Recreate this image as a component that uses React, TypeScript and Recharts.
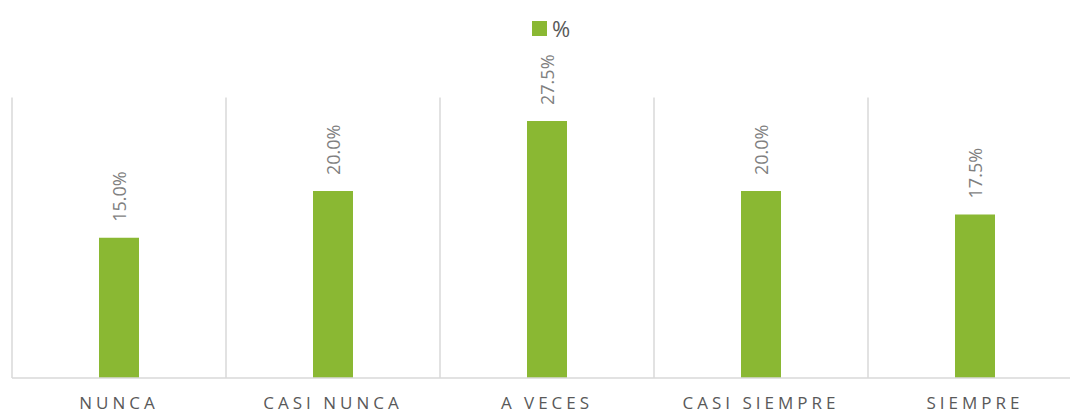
import { BarChart, Bar, XAxis, YAxis, CartesianGrid, Legend, LabelList } from 'recharts'

const categories = ['NUNCA', 'CASI NUNCA', 'A VECES', 'CASI SIEMPRE', 'SIEMPRE']
const percentages = [15.0, 20.0, 27.5, 20.0, 17.5]
const seriesName = '%'

const data = categories.map((name, i) => ({ name, value: percentages[i] }))

const FONT = '"Open Sans", "Noto Sans", sans-serif'
const GREEN = '#8ab833'

const renderTick = (props: any) => {
  const { x, y, payload } = props
  return (
    <text
      x={x}
      y={y + 29}
      textAnchor="middle"
      fill="#595959"
      fontSize={17}
      fontFamily={FONT}
      letterSpacing={4}
    >
      {payload.value}
    </text>
  )
}

const renderValueLabel = (props: any) => {
  const { x, y, width, value } = props
  const cx = x + width / 2
  const cy = y - 16
  return (
    <text
      x={cx}
      y={cy}
      transform={`rotate(-90 ${cx} ${cy})`}
      textAnchor="start"
      dominantBaseline="central"
      fill="#7f7f7f"
      fontSize={18}
      fontFamily={FONT}
    >
      {Number(value).toFixed(1)}%
    </text>
  )
}

const renderLegend = () => (
  <div style={{ height: 85.6, display: 'flex', justifyContent: 'center', alignItems: 'flex-start', fontFamily: FONT }}>
    <div style={{ display: 'flex', alignItems: 'center', marginTop: 5, marginLeft: 8 }}>
      <span style={{ width: 15, height: 15, background: GREEN, display: 'inline-block', marginRight: 5 }} />
      <span style={{ fontSize: 22, color: '#595959', lineHeight: '22px' }}>{seriesName}</span>
    </div>
  </div>
)

export default function App() {
  return (
    <div style={{ position: 'fixed', left: 0, top: 0, width: 1070, height: 413, overflow: 'hidden', background: '#fff' }}>
      <BarChart
        width={1090}
        height={413}
        data={data}
        margin={{ top: 12, right: 8, left: 12, bottom: 0 }}
      >
        <CartesianGrid
          horizontal={false}
          stroke="#d9d9d9"
          strokeWidth={1.5}
          verticalCoordinatesGenerator={({ offset }: any) => {
            const left = offset?.left ?? 12
            const w = offset?.width ?? 1070
            return categories.map((_, i) => left + (i * w) / categories.length)
          }}
        />
        <XAxis
          dataKey="name"
          tickLine={false}
          tickSize={0}
          axisLine={{ stroke: '#d9d9d9', strokeWidth: 1.5 }}
          tick={renderTick}
          height={35}
          interval={0}
        />
        <YAxis hide domain={[0, 30]} />
        <Legend verticalAlign="top" content={renderLegend} />
        <Bar dataKey="value" name={seriesName} fill={GREEN} barSize={40} isAnimationActive={false}>
          <LabelList dataKey="value" content={renderValueLabel} />
        </Bar>
      </BarChart>
    </div>
  )
}
